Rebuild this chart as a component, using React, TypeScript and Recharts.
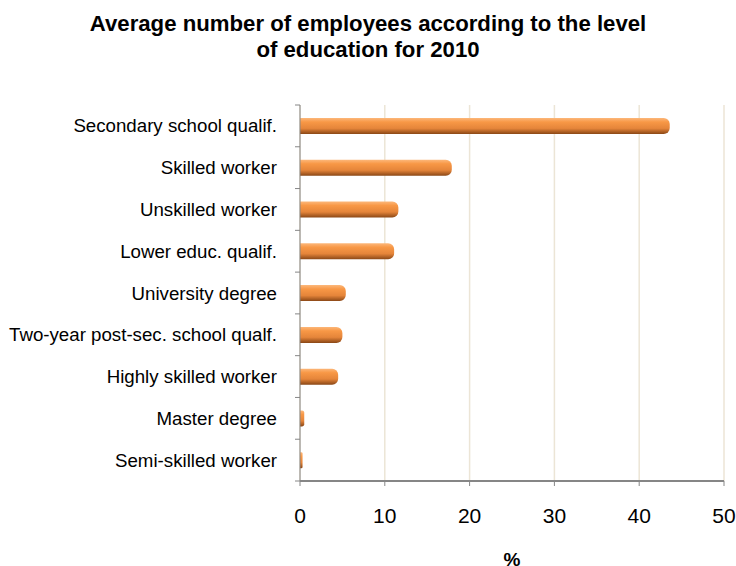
import React from 'react';
import { BarChart, Bar, XAxis, YAxis, CartesianGrid } from 'recharts';

const categories = [
  'Secondary school qualif.',
  'Skilled worker',
  'Unskilled worker',
  'Lower educ. qualif.',
  'University degree',
  'Two-year post-sec. school qualf.',
  'Highly skilled worker',
  'Master degree',
  'Semi-skilled worker',
];
const values = [43.6, 17.9, 11.6, 11.1, 5.4, 5.0, 4.5, 0.5, 0.3];
const xTicks = [0, 10, 20, 30, 40, 50];
const title1 = 'Average number of employees according to the level';
const title2 = 'of education for 2010';
const xLabel = '%';

const data = categories.map((name, i) => ({ name, value: values[i] }));

const FONT = '"Liberation Sans", Arial, sans-serif';

const YTick = (props: any) => {
  const { x, y, payload, index } = props;
  const off = payload.offset ?? 0;
  const axisX = x + 8;
  return (
    <g>
      <line x1={axisX - 5} x2={axisX} y1={y - off} y2={y - off} stroke="#868686" strokeWidth={1} />
      {index === categories.length - 1 && (
        <line x1={axisX - 5} x2={axisX} y1={y + off} y2={y + off} stroke="#868686" strokeWidth={1} />
      )}
      <text x={axisX - 23} y={y} dy="0.35em" textAnchor="end" fontSize={18.7} fill="#000" fontFamily={FONT}>
        {payload.value}
      </text>
    </g>
  );
};

const XLabel = (props: any) => {
  const vb = props.viewBox;
  return (
    <text x={vb.x + vb.width / 2} y={566} textAnchor="middle" fontSize={19} fontWeight="bold" fill="#000" fontFamily={FONT}>
      {xLabel}
    </text>
  );
};

export default function App() {
  return (
    <div style={{ position: 'absolute', left: 0, top: 0, width: 736, height: 566, background: '#fff' }}>
      <div style={{ position: 'absolute', left: 0, top: 10.5, width: 736, textAlign: 'center', fontFamily: FONT, fontWeight: 'bold', fontSize: 22.2, lineHeight: '26px', color: '#000' }}>
        <div>{title1}</div>
        <div>{title2}</div>
      </div>
      <BarChart
        width={736}
        height={566}
        data={data}
        layout="vertical"
        margin={{ top: 105, right: 12, bottom: 0, left: 0 }}
        barCategoryGap={0}
        style={{ position: 'absolute', left: 0, top: 0 }}
      >
        <defs>
          <linearGradient id="barGrad" x1="0" y1="0" x2="0" y2="1">
            <stop offset="0%" stopColor="#fcb77a" />
            <stop offset="25%" stopColor="#f89846" />
            <stop offset="65%" stopColor="#e5853a" />
            <stop offset="100%" stopColor="#8a4716" />
          </linearGradient>
        </defs>
        <CartesianGrid horizontal={false} vertical stroke="#ece5d6" strokeWidth={1.5} />
        <XAxis
          type="number"
          domain={[0, 50]}
          ticks={xTicks}
          interval={0}
          axisLine={{ stroke: '#868686', strokeWidth: 2 }}
          tickLine={{ stroke: '#868686' }}
          tickSize={5}
          tickMargin={22}
          tick={{ fontSize: 21, fill: '#000', fontFamily: FONT }}
          height={85}
          label={<XLabel />}
        />
        <YAxis
          type="category"
          dataKey="name"
          width={300}
          axisLine={{ stroke: '#868686', strokeWidth: 1 }}
          tickLine={false}
          tick={<YTick />}
          interval={0}
        />
        <Bar
          dataKey="value"
          barSize={16}
          fill="url(#barGrad)"
          radius={[0, 6, 6, 0]}
          isAnimationActive={false}
        />
      </BarChart>
    </div>
  );
}
